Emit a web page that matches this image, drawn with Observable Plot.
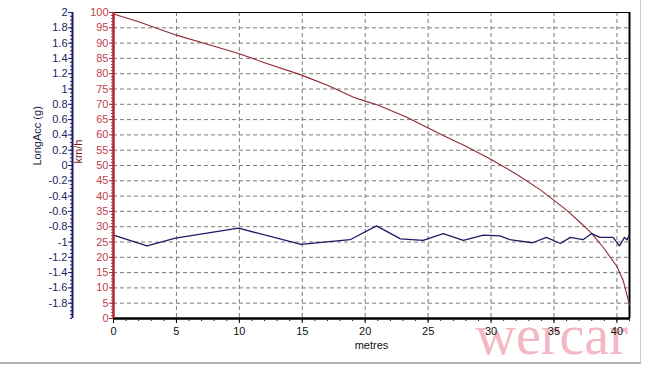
<!DOCTYPE html>
<html><head><meta charset="utf-8">
<script src="https://cdn.jsdelivr.net/npm/d3@7"></script>
<script src="https://cdn.jsdelivr.net/npm/@observablehq/plot@0.6"></script>
<style>
html,body{margin:0;padding:0;background:#fff;}
#wrap{position:relative;width:648px;height:365px;overflow:hidden;}
#wrap svg{display:block;}
.edgeR{position:absolute;left:640px;top:0;width:1px;height:363px;background:#d0d0d0;}
.edgeB{position:absolute;left:0;top:362px;width:641px;height:2px;background:#b4b4b4;}
</style></head><body><div id="wrap"><div class="edgeR"></div><div class="edgeB"></div></div>
<script>
// Speed (km/h) vs distance (metres)
const metresSpeed = [0, 2, 5, 8, 10, 12, 14.84, 17, 19.07, 19.87, 21, 23.3, 26.2, 28, 29.9, 32, 34, 35, 36, 37, 38, 39, 40, 40.5, 41];
const speedKmh    = [99.5, 97, 92.6, 89, 86.5, 83.6, 79.7, 76.2, 72.3, 71.2, 69.8, 65.8, 59.8, 56.3, 52.2, 47.2, 41.8, 38.6, 35.4, 31.7, 27.8, 22.8, 17, 12.4, 4.5];
// Longitudinal acceleration (g) vs distance (metres)
const metresAcc = [0, 2.67, 4.92, 9.94, 14.9, 18.8, 20.9, 22.8, 24.6, 26.2, 27.8, 29.4, 30.7, 31.5, 31.9, 33.3, 34.4, 35.5, 36.3, 37.3, 38.0, 38.65, 39.7, 40.2, 40.6, 40.8, 40.95];
const longAcc   = [-0.91, -1.05, -0.95, -0.82, -1.03, -0.97, -0.79, -0.96, -0.98, -0.89, -0.98, -0.91, -0.92, -0.97, -0.98, -1.01, -0.94, -1.02, -0.94, -0.97, -0.89, -0.94, -0.94, -1.05, -0.94, -0.97, -0.92];
// Tick labels
const xTicks = [0, 5, 10, 15, 20, 25, 30, 35, 40];
const kmhTicks = [0, 5, 10, 15, 20, 25, 30, 35, 40, 45, 50, 55, 60, 65, 70, 75, 80, 85, 90, 95, 100];
const gTicks = [-1.8, -1.6, -1.4, -1.2, -1, -0.8, -0.6, -0.4, -0.2, 0, 0.2, 0.4, 0.6, 0.8, 1, 1.2, 1.4, 1.6, 1.8, 2];

// LongAcc axis (-2..2 g) shares the plot height with the km/h axis (0..100)
const gToY = g => (g + 2) * 25;
const yToG = v => String(Math.round((v / 25 - 2) * 10) / 10);

const speedData = metresSpeed.map((m, i) => ({m, v: speedKmh[i]}));
const accData = metresAcc.map((m, i) => ({m, v: gToY(longAcc[i])}));

const RED = "#b3263a", REDTXT = "#c0404e", NAVY = "#1c1c66";

const chart = Plot.plot({
  width: 648, height: 365,
  marginTop: 12, marginBottom: 47, marginLeft: 113, marginRight: 19,
  style: {fontFamily: "'Liberation Sans', Arial, sans-serif", fontSize: "11px", background: "#fff", overflow: "visible"},
  x: {domain: [0, 41]},
  y: {domain: [0, 100]},
  marks: [
    Plot.text(["wercar"], {frameAnchor: "bottom-left", dx: 362, dy: 35, text: d => d, textAnchor: "start", fontSize: 56, fontFamily: "'Liberation Serif', 'DejaVu Serif', serif", fill: "#f3b8c4"}),
    Plot.gridX(xTicks.filter(d => d > 0), {stroke: "#7a7a7a", strokeOpacity: 1, strokeDasharray: "4,3"}),
    Plot.gridY(kmhTicks.filter(d => d > 0 && d < 100), {stroke: "#7a7a7a", strokeOpacity: 1, strokeDasharray: "4,3"}),
    Plot.ruleY([100], {stroke: "#000", strokeWidth: 1.2}),
    Plot.ruleX([41], {stroke: "#000", strokeWidth: 2}),
    Plot.line(speedData, {x: "m", y: "v", stroke: "#8e2a30", strokeWidth: 1.1}),
    Plot.line(accData, {x: "m", y: "v", stroke: NAVY, strokeWidth: 1.3}),
    Plot.ruleY([0], {stroke: "#000", strokeWidth: 2.5}),
    // km/h axis
    Plot.ruleX([0], {stroke: RED, strokeWidth: 2.5}),
    Plot.axisY(d3.range(0, 101, 1), {anchor: "left", tickSize: 2, tickFormat: () => "", stroke: RED, label: null}),
    Plot.axisY(kmhTicks, {anchor: "left", tickSize: 4, tickPadding: 1, tickFormat: d => String(d), stroke: RED, fill: REDTXT, label: null}),
    // LongAcc axis
    Plot.ruleX([0], {dx: -41, stroke: NAVY, strokeWidth: 2}),
    Plot.axisY(d3.range(0, 101, 1.25), {anchor: "left", dx: -41, tickSize: 2, tickFormat: () => "", stroke: NAVY, label: null}),
    Plot.axisY(gTicks.map(gToY), {anchor: "left", dx: -41, tickSize: 4, tickPadding: 1, tickFormat: yToG, stroke: NAVY, fill: "#222266", label: null}),
    // x axis
    Plot.axisX(d3.range(0, 42, 1), {anchor: "bottom", tickSize: 3, tickFormat: () => "", stroke: "#222", label: null}),
    Plot.axisX(xTicks, {anchor: "bottom", tickSize: 5, tickPadding: 4, tickFormat: d => String(d), fill: "#111", label: null}),
    // axis titles
    Plot.text(["metres"], {frameAnchor: "bottom", dy: 30, text: d => d, fill: "#111"}),
    Plot.text(["km/h"], {frameAnchor: "left", dx: -35, dy: -2, rotate: -90, text: d => d, fill: "#7a1a22"}),
    Plot.text(["LongAcc (g)"], {frameAnchor: "left", dx: -76, rotate: -90, text: d => d, fill: "#1a1a40"})
  ]
});
document.getElementById("wrap").prepend(chart);
</script></body></html>
